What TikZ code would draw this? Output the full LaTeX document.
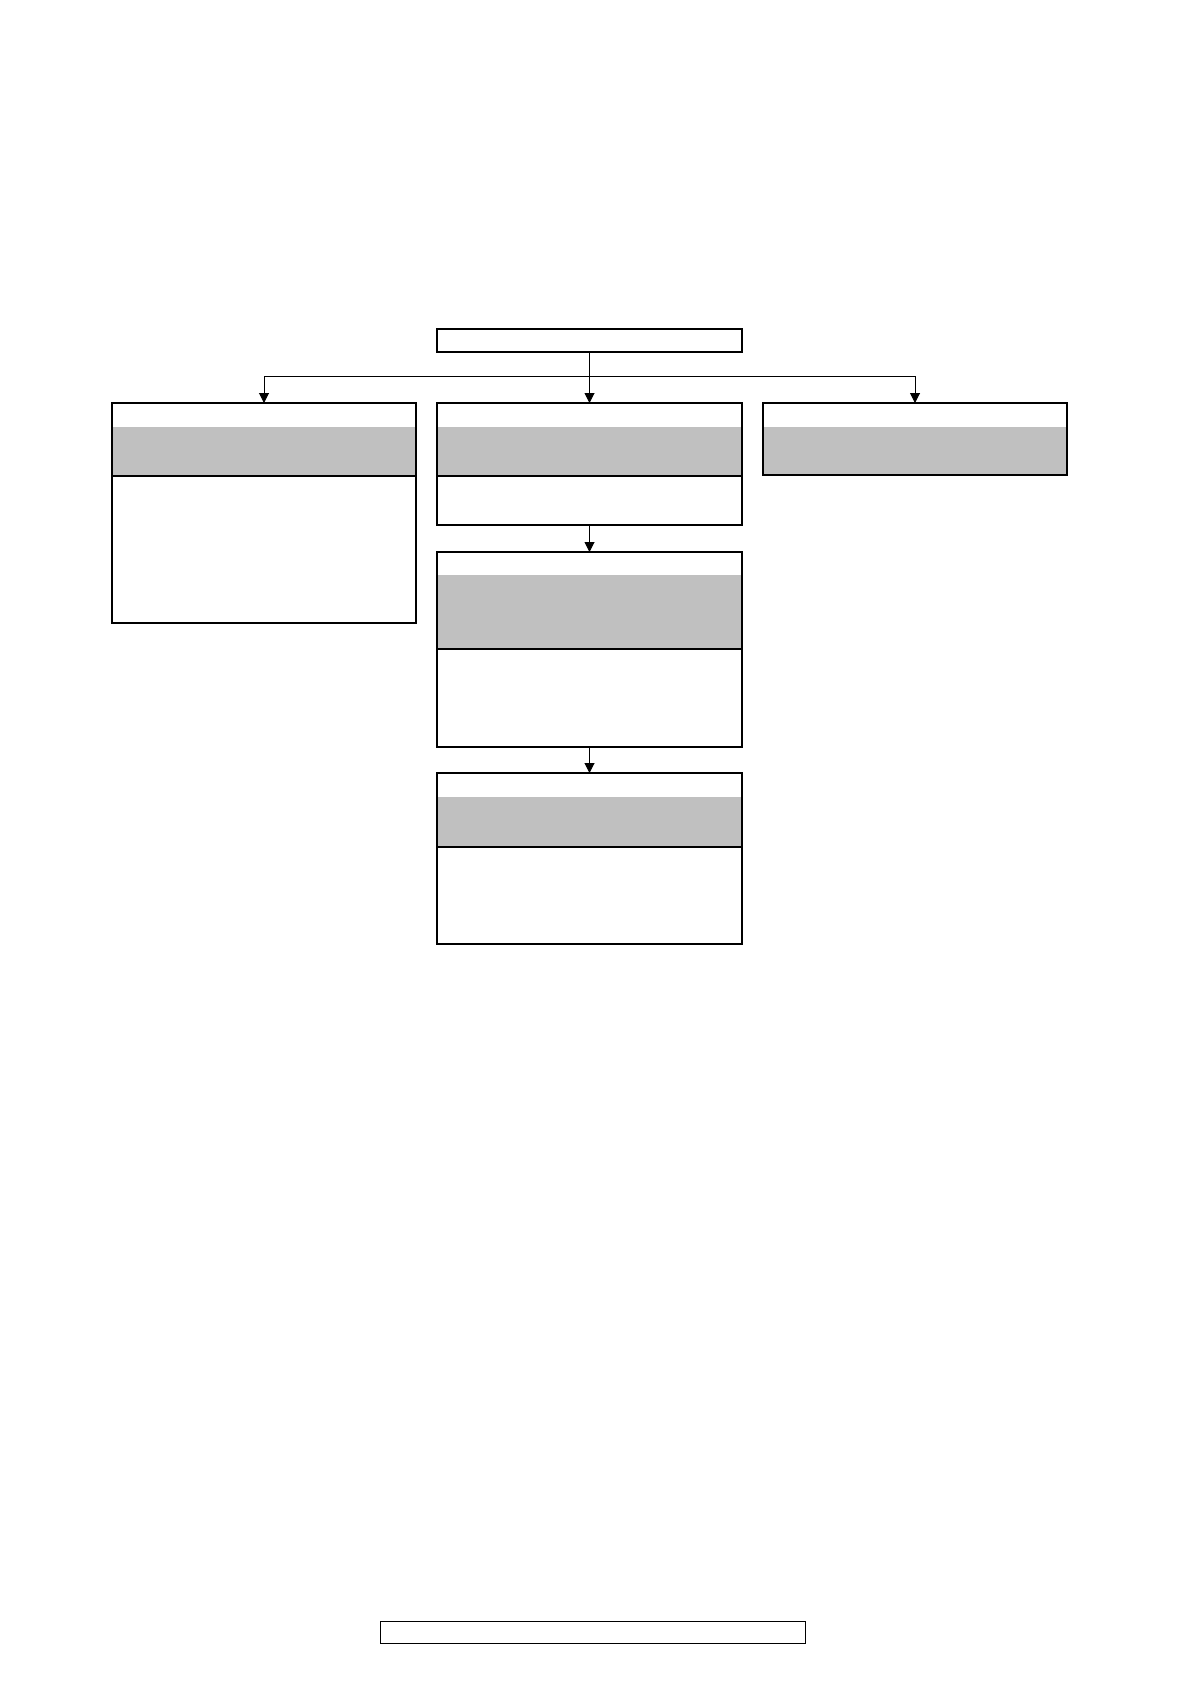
\documentclass[tikz,border=0pt]{standalone}
\usetikzlibrary{arrows.meta,calc,backgrounds}
\definecolor{bandgray}{HTML}{C0C0C0}
\begin{document}
\begin{tikzpicture}[x=1pt,y=-1pt,
  box/.style={draw,line width=2.5pt,rectangle,inner sep=0pt,outer sep=0pt,anchor=north west},
  band/.style={fill=bandgray},
  divider/.style={line width=2.5pt},
  wire/.style={line width=1pt},
  conn/.style={line width=1pt,-{Triangle[width=10pt,length=10pt]}}]
\useasboundingbox (0,0) rectangle (1190,1684);

% boxes
\node[box,minimum width=305pt,minimum height=23pt]  (top) at (437,329) {};
\node[box,minimum width=304pt,minimum height=220pt] (L)   at (112,403) {};
\node[box,minimum width=305pt,minimum height=122pt] (C1)  at (437,403) {};
\node[box,minimum width=304pt,minimum height=72pt]  (R)   at (763,403) {};
\node[box,minimum width=305pt,minimum height=195pt] (C2)  at (437,552) {};
\node[box,minimum width=305pt,minimum height=171pt] (C3)  at (437,773) {};
\node[box,line width=1.3pt,minimum width=425pt,minimum height=22pt] (foot) at (380.5,1621.5) {};

% page and grey bands
\begin{scope}[on background layer]
  \fill[white] (0,0) rectangle (1190,1684);
  \fill[band] ($(L.north west)+(0,24)$)  rectangle ($(L.north east)+(0,73)$);
  \fill[band] ($(C1.north west)+(0,24)$) rectangle ($(C1.north east)+(0,73)$);
  \fill[band] ($(R.north west)+(0,24)$)  rectangle (R.south east);
  \fill[band] ($(C2.north west)+(0,23)$) rectangle ($(C2.north east)+(0,97)$);
  \fill[band] ($(C3.north west)+(0,24)$) rectangle ($(C3.north east)+(0,74)$);
\end{scope}

% dividers
\draw[divider] ($(L.north west)+(0,73)$)  -- ($(L.north east)+(0,73)$);
\draw[divider] ($(C1.north west)+(0,73)$) -- ($(C1.north east)+(0,73)$);
\draw[divider] ($(C2.north west)+(0,97)$) -- ($(C2.north east)+(0,97)$);
\draw[divider] ($(C3.north west)+(0,74)$) -- ($(C3.north east)+(0,74)$);

% connectors
\coordinate (j) at ($(top.south)+(0,24)$);
\draw[wire] (top.south) -- (j);
\draw[wire] (L.north |- j) -- (R.north |- j);
\draw[conn] (L.north |- j) -- (L.north);
\draw[conn] (j) -- (C1.north);
\draw[conn] (R.north |- j) -- (R.north);
\draw[conn] (C1.south) -- (C2.north);
\draw[conn] (C2.south) -- (C3.north);
\end{tikzpicture}
\end{document}
